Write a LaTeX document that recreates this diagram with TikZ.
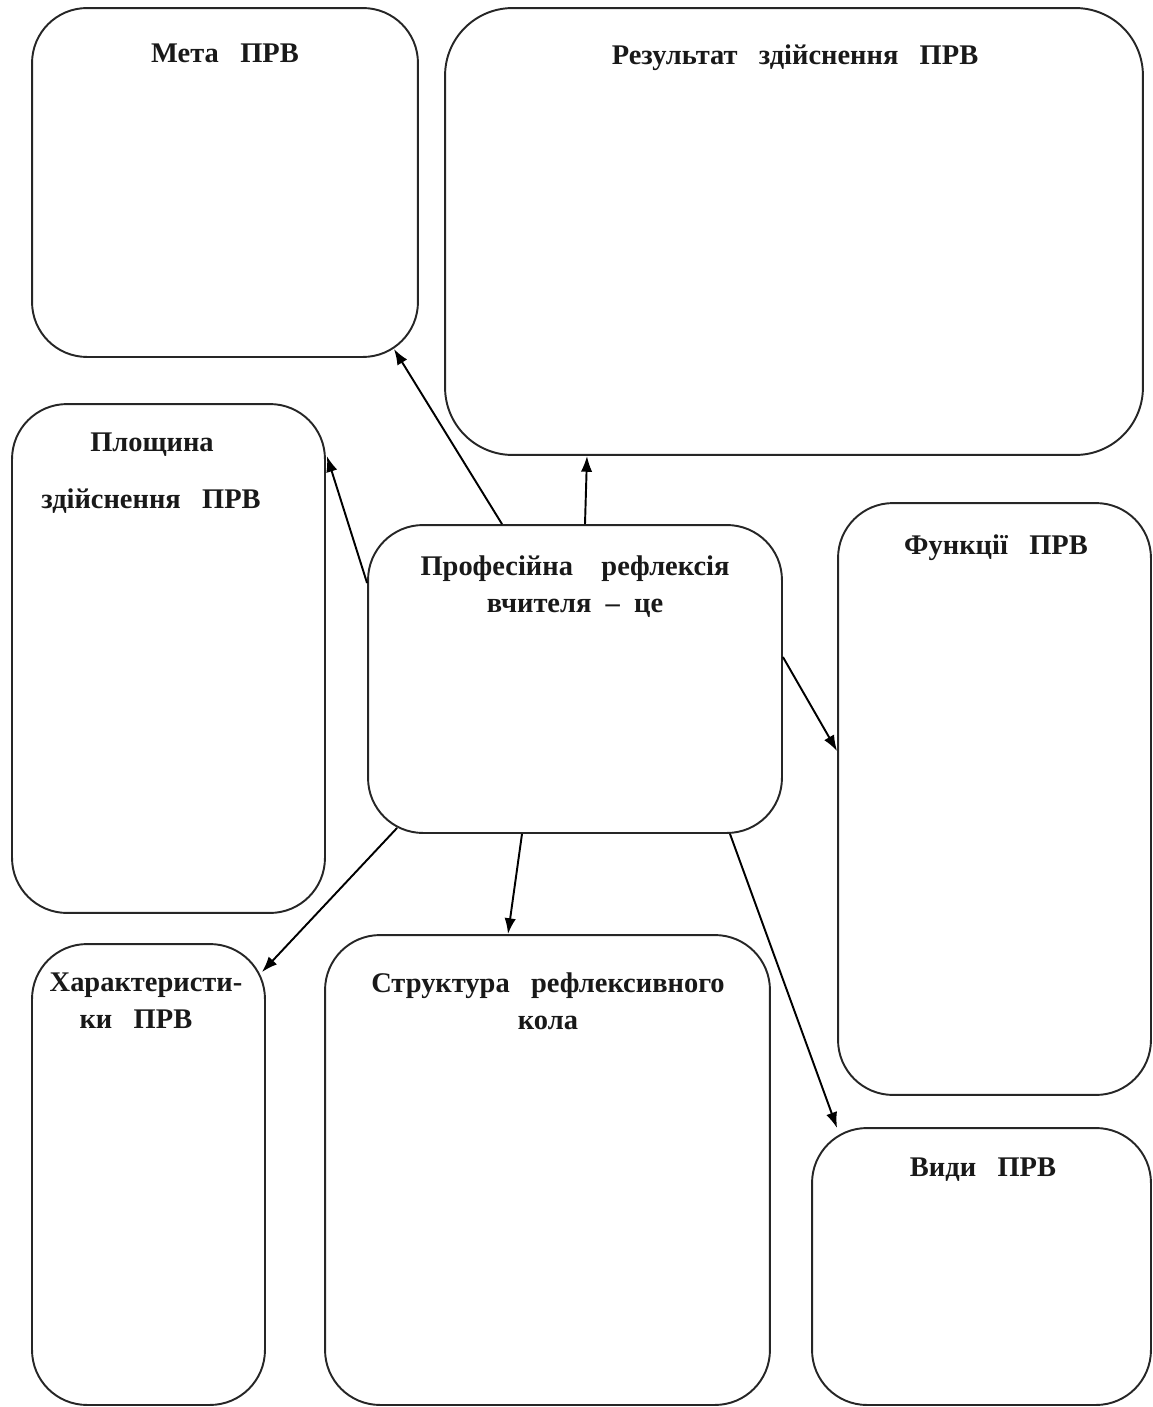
\documentclass[tikz,border=0pt]{standalone}
\usepackage{fontspec}
\setmainfont{Liberation Serif}
\usepackage{tikz}
\usetikzlibrary{calc}
\usetikzlibrary{arrows.meta}

\begin{document}
\begin{tikzpicture}[x=0.02cm, y=-0.02cm,
    box/.style={draw=black!85, line width=1.1pt, rounded corners=1.1cm, inner sep=0},
    title/.style={inner sep=0, text=black!90, font=\fontsize{16.2}{19}\selectfont\bfseries, align=center},
    link/.style={line width=1.1pt, -{Latex[length=9pt,width=6.5pt]}}]
        \useasboundingbox (0,0) rectangle (1153,1407);

        \node (meta) [box, minimum width=7.72cm, minimum height=6.98cm] at (225, 182.5) {};
        \node (rez) [box, rounded corners=1.35cm, minimum width=13.96cm, minimum height=8.94cm] at (794, 231.5) {};
        \node (pl) [box, minimum width=6.26cm, minimum height=10.18cm] at (168.5, 658.5) {};
        \node (centr) [box, minimum width=8.28cm, minimum height=6.16cm] at (575, 679) {};
        \node (fun) [box, minimum width=6.26cm, minimum height=11.84cm] at (994.5, 799) {};
        \node (har) [box, minimum width=4.66cm, minimum height=9.22cm] at (148.5, 1174.5) {};
        \node (str) [box, minimum width=8.9cm, minimum height=9.4cm] at (547.5, 1170) {};
        \node (vydy) [box, minimum width=6.78cm, minimum height=5.54cm] at (981.5, 1266.5) {};

        \node (metat) [title] at (225, 53) {Мета\ \ \ ПРВ};
        \node (rezt) [title] at (795, 58) {Результат\ \ \ здійснення\ \ \ ПРВ};
        \node (plt1) [title] at (152, 445) {Площина};
        \node (plt2) [title] at (151, 501) {здійснення\ \ \ ПРВ};
        \node (centrt) [title] at (575, 587) {Професійна\ \ \ \ рефлексія\\[2pt]вчителя\ \ –\ \ це};
        \node (funt) [title] at (996, 548) {Функції\ \ \ ПРВ};
        \node (hart) [title, align=left] at (146, 1001) {Характеристи-\\[2pt]\hspace*{1.05em}ки\ \ \ ПРВ};
        \node (strt) [title] at (548, 1001) {Структура\ \ \ рефлексивного\\[2pt]кола};
        \node (vydyt) [title] at (983, 1170) {Види\ \ \ ПРВ};

        \path[link]
        ($(centr.north)+(-73,0)$) edge ($(meta.south east)+(-25,-9)$)
        ($(centr.north)+(10,0)$) edge ($(rez.south)+(-207,0)$)
        ($(centr.west)+(0,-96)$) edge ($(pl.north east)+(1,53)$)
        ($(centr.east)+(0,-22)$) edge ($(fun.north west)+(0,249)$)
        ($(centr.south west)+(30,-6)$) edge ($(har.north east)+(-4,29)$)
        ($(centr.south)+(-53,0)$) edge ($(str.north)+(-39.5,0)$)
        ($(centr.south)+(155,0)$) edge ($(vydy.north west)+(26,1)$)
        ;
      \end{tikzpicture}
\end{document}
